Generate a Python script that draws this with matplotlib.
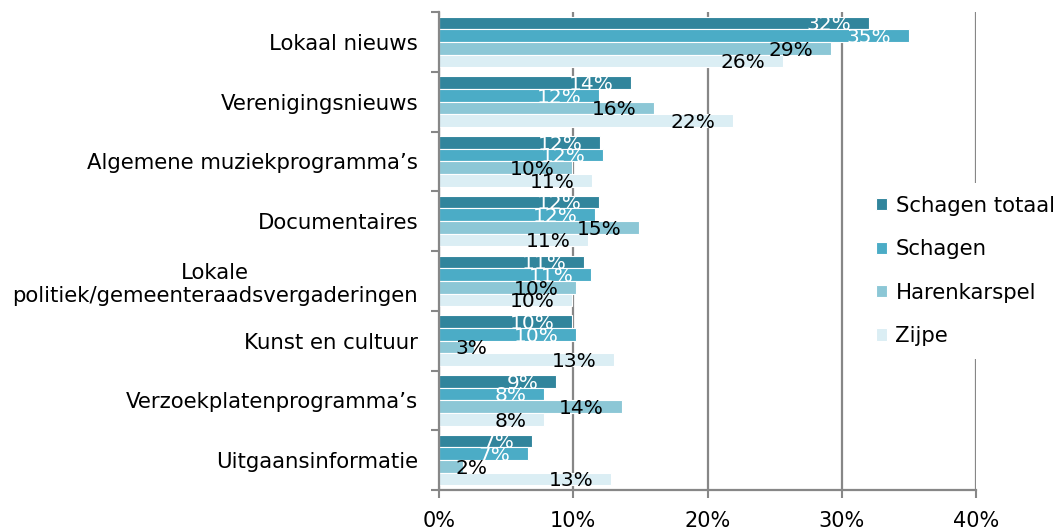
import numpy as np
import matplotlib
matplotlib.use("Agg")
import matplotlib.pyplot as plt

categories = ["Lokaal nieuws", "Verenigingsnieuws", "Algemene muziekprogramma’s",
              "Documentaires", "Lokale\npolitiek/gemeenteraadsvergaderingen",
              "Kunst en cultuur", "Verzoekplatenprogramma’s", "Uitgaansinformatie"]
series_names = ["Schagen totaal", "Schagen", "Harenkarspel", "Zijpe"]
schagen_totaal = [32.0, 14.3, 12.0, 11.9, 10.8, 9.9, 8.7, 6.9]
schagen = [35.0, 11.9, 12.2, 11.6, 11.3, 10.2, 7.8, 6.6]
harenkarspel = [29.2, 16.0, 9.9, 14.9, 10.2, 2.6, 13.6, 1.8]
zijpe = [25.6, 21.9, 11.4, 11.1, 9.9, 13.0, 7.8, 12.8]
value_labels = [
    ["32%", "14%", "12%", "12%", "11%", "10%", "9%", "7%"],
    ["35%", "12%", "12%", "12%", "11%", "10%", "8%", "7%"],
    ["29%", "16%", "10%", "15%", "10%", "3%", "14%", "2%"],
    ["26%", "22%", "11%", "11%", "10%", "13%", "8%", "13%"],
]
colors = ["#31859c", "#4bacc6", "#8cc7d6", "#dbeef4"]
label_colors = ["white", "white", "black", "black"]

plt.rcParams['font.family'] = ['DejaVu Sans']
fig = plt.figure(figsize=(10.58, 5.29), dpi=100)
ax = fig.add_axes([439 / 1058, 1 - 490 / 529, (976 - 439) / 1058, (490 - 12) / 529])

data = [schagen_totaal, schagen, harenkarspel, zijpe]
y = np.arange(len(categories))
h = 0.212
offsets = (np.arange(4) - 1.5) * h

for i, vals in enumerate(data):
    ax.barh(y + offsets[i], vals, height=h, color=colors[i], edgecolor="white",
            linewidth=0.8, label=series_names[i], zorder=2)
    for j, v in enumerate(vals):
        if v < 5:
            ax.text(1.25, y[j] + offsets[i] + 0.03, value_labels[i][j], ha="left", va="center",
                    fontsize=14.5, color=label_colors[i], zorder=3)
        else:
            ax.text(v - 1.3, y[j] + offsets[i] + 0.03, value_labels[i][j], ha="right", va="center",
                    fontsize=14.5, color=label_colors[i], zorder=3)

ax.set_xlim(0, 40)
ax.set_ylim(len(categories) - 0.5, -0.5)
ax.set_xticks([0, 10, 20, 30, 40])
ax.set_xticklabels(["0%", "10%", "20%", "30%", "40%"], fontsize=15)
ax.set_yticks(y)
ax.set_yticklabels(categories, fontsize=15.3, multialignment="center")
ax.set_yticks(np.arange(-0.5, len(categories), 1), minor=True)
ax.tick_params(axis="y", which="major", length=0, pad=15)
ax.tick_params(axis="y", which="minor", length=6, width=1.5, color="#878787")
ax.tick_params(axis="x", length=6, width=1.5, color="#878787", pad=9)
ax.xaxis.grid(True, color="#878787", linewidth=1.6, zorder=0)
ax.set_axisbelow(True)
for s in ["top", "right"]:
    ax.spines[s].set_visible(False)
for s in ["left", "bottom"]:
    ax.spines[s].set_color("#878787")
    ax.spines[s].set_linewidth(1.6)

leg = fig.legend(loc="center left", bbox_to_anchor=(853 / 1058, 1 - 271 / 529), fontsize=15.3,
                 frameon=True, framealpha=1, edgecolor="white", fancybox=False,
                 handlelength=0.5, handleheight=0.5, handletextpad=0.4, labelspacing=1.1,
                 borderpad=0.6)
leg.get_frame().set_linewidth(0)

fig.savefig("out.png", dpi=100)
